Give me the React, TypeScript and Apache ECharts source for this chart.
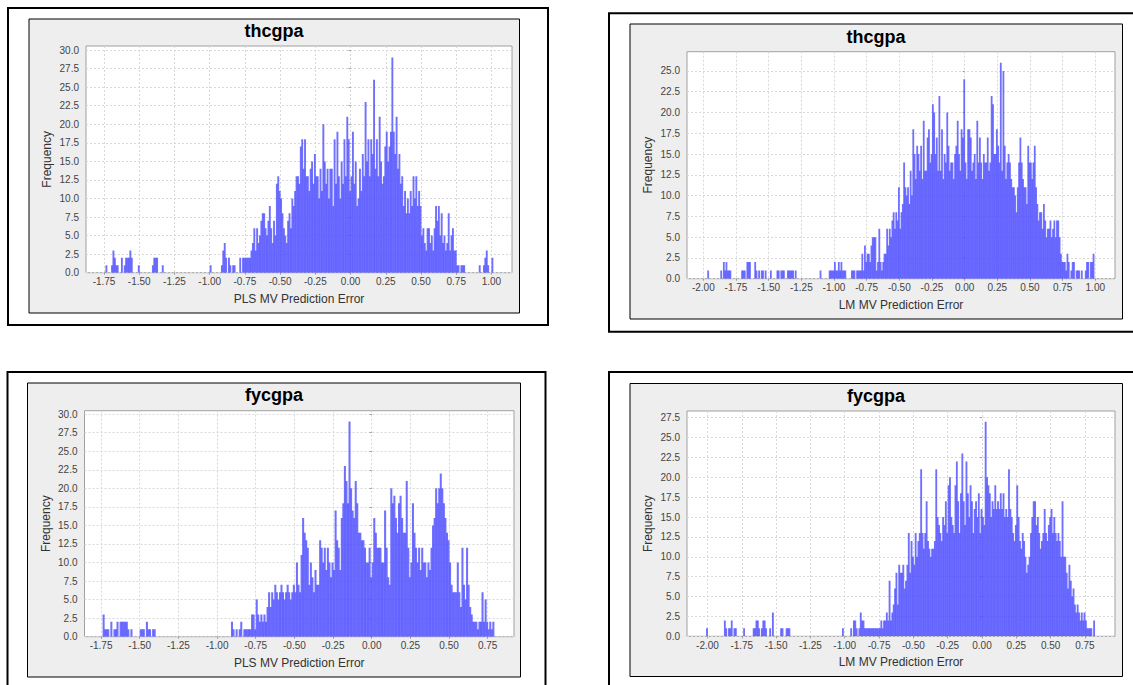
import React, { useEffect, useRef } from 'react';
import * as echarts from 'echarts';

const BIN = 0.01;
const FONT = '"Liberation Sans", Arial, Helvetica, sans-serif';
const BAR = 'rgba(80,80,255,0.82)';

// ---------- tick labels ----------
const xTicksThcPls = [-1.75, -1.5, -1.25, -1.0, -0.75, -0.5, -0.25, 0, 0.25, 0.5, 0.75, 1.0];
const xTicksThcLm = [-2.0, -1.75, -1.5, -1.25, -1.0, -0.75, -0.5, -0.25, 0, 0.25, 0.5, 0.75, 1.0];
const xTicksFycPls = [-1.75, -1.5, -1.25, -1.0, -0.75, -0.5, -0.25, 0, 0.25, 0.5, 0.75];
const xTicksFycLm = [-2.0, -1.75, -1.5, -1.25, -1.0, -0.75, -0.5, -0.25, 0, 0.25, 0.5, 0.75];
const yTicks30 = [0, 2.5, 5, 7.5, 10, 12.5, 15, 17.5, 20, 22.5, 25, 27.5, 30];
const yTicks25 = [0, 2.5, 5, 7.5, 10, 12.5, 15, 17.5, 20, 22.5, 25];
const yTicks275 = [0, 2.5, 5, 7.5, 10, 12.5, 15, 17.5, 20, 22.5, 25, 27.5];

// ---------- thcgpa, PLS ----------
const thcPlsOutliers = [
  [-1.74, 1], [-1.70, 1], [-1.69, 3], [-1.68, 2], [-1.67, 1], [-1.66, 1], [-1.63, 2], [-1.61, 1],
  [-1.60, 2], [-1.59, 2], [-1.58, 2], [-1.57, 3], [-1.56, 2], [-1.51, 1], [-1.41, 1], [-1.40, 2],
  [-1.39, 2], [-1.38, 2], [-1.34, 1], [-1.00, 1], [-0.92, 1], [-0.91, 3], [-0.90, 4], [-0.89, 2],
  [-0.87, 2], [-0.86, 1], [-0.84, 1], [-0.83, 1], [0.91, 1], [0.94, 1], [0.95, 2], [0.96, 3],
  [0.97, 1], [1.00, 2],
];
const thcPlsStart = -0.79;
const thcPlsCounts = [
  2, 0, 2, 2, 2, 2, 2, 2, 3, 4, 6, 3, 6, 4, 5, 7, 8, 8, 6, 5,
  7, 9, 6, 4, 7, 5, 12, 13, 11, 10, 8, 6, 5, 4, 7, 8, 6, 10, 9, 11,
  13, 13, 12, 17, 18, 14, 18, 13, 13, 11, 14, 15, 12, 16, 13, 13, 10, 14, 11, 20,
  15, 12, 14, 10, 14, 14, 9, 18, 12, 19, 13, 10, 15, 12, 18, 13, 21, 18, 11, 13,
  19, 12, 15, 9, 10, 14, 11, 16, 13, 23, 15, 18, 13, 18, 16, 26, 14, 18, 13, 21,
  15, 12, 13, 17, 19, 15, 17, 19, 29, 19, 16, 21, 14, 16, 12, 13, 9, 11, 8, 10,
  8, 11, 9, 13, 10, 13, 9, 11, 9, 5, 6, 4, 3, 6, 6, 4, 5, 3, 6, 9,
  7, 9, 5, 8, 4, 5, 3, 4, 8, 3, 5, 6, 3, 3, 1, 1, 0, 1, 1, 1,
];

// ---------- thcgpa, LM ----------
const thcLmOutliers = [
  [-1.97, 1], [-1.87, 1], [-1.85, 2], [-1.84, 1], [-1.83, 2], [-1.82, 1], [-1.81, 1], [-1.80, 1],
  [-1.71, 1], [-1.70, 1], [-1.69, 1], [-1.67, 2], [-1.66, 2], [-1.65, 2], [-1.61, 2], [-1.60, 1],
  [-1.58, 1], [-1.56, 1], [-1.55, 1], [-1.53, 1], [-1.49, 1], [-1.44, 1], [-1.43, 1], [-1.41, 1],
  [-1.40, 1], [-1.39, 1], [-1.36, 1], [-1.35, 1], [-1.34, 1], [-1.33, 1], [-1.32, 1], [-1.30, 1],
  [-1.11, 1], [-1.04, 1], [-1.03, 1], [-1.02, 1], [-1.01, 1], [-1.00, 2], [-0.99, 1], [-0.98, 1],
  [-0.97, 2], [-0.96, 1], [-0.95, 2], [-0.94, 1], [-0.93, 1], [-0.92, 1], [-0.87, 1], [-0.86, 1],
  [-0.85, 1], [-0.83, 1], [-0.82, 1], [-0.81, 1],
];
const thcLmStart = -0.80;
const thcLmCounts = [
  1, 3, 1, 4, 2, 3, 3, 2, 4, 5, 5, 5, 1, 2, 6, 2, 1, 2, 3,
  3, 6, 4, 6, 5, 7, 8, 6, 8, 7, 11, 6, 8, 9, 14, 11, 10, 11, 9, 13,
  10, 18, 15, 12, 16, 15, 13, 16, 12, 19, 13, 13, 17, 18, 14, 15, 21, 20, 15, 17,
  13, 22, 13, 18, 12, 15, 14, 20, 16, 13, 14, 14, 12, 15, 16, 19, 15, 13, 18, 17,
  24, 14, 12, 18, 18, 17, 13, 14, 15, 12, 19, 14, 17, 14, 12, 15, 14, 14, 17, 13,
  14, 22, 21, 15, 15, 18, 16, 14, 26, 13, 25, 16, 12, 14, 15, 14, 12, 11, 11, 10,
  8, 11, 14, 17, 14, 12, 11, 11, 9, 16, 14, 14, 12, 14, 16, 11, 9, 7, 8, 8,
  6, 9, 7, 5, 6, 6, 7, 5, 6, 7, 5, 7, 7, 5, 3, 2, 2, 2, 1, 3,
  2, 0, 1, 2, 2, 0, 1, 1, 1, 0, 1, 0, 0, 1, 2, 2, 0, 2, 2, 3,
];

// ---------- fycgpa, PLS ----------
const fycPlsOutliers = [
  [-1.74, 3], [-1.73, 1], [-1.72, 1], [-1.71, 1], [-1.69, 2], [-1.67, 1], [-1.66, 1], [-1.65, 2],
  [-1.63, 2], [-1.62, 2], [-1.61, 2], [-1.60, 2], [-1.59, 2], [-1.58, 1], [-1.56, 1], [-1.50, 1],
  [-1.49, 1], [-1.48, 1], [-1.46, 2], [-1.45, 1], [-1.44, 1], [-1.42, 1], [-1.41, 1],
];
const fycPlsStart = -0.91;
const fycPlsCounts = [
  2, 1, 0, 1, 0, 1, 2, 0, 1, 1, 1, 1, 1, 3, 3, 1, 5, 3, 2, 3,
  2, 3, 2, 4, 6, 4, 6, 5, 7, 6, 5, 6, 7, 6, 5, 6, 7, 6, 5, 6,
  7, 6, 10, 7, 6, 11, 16, 14, 13, 12, 7, 10, 8, 6, 9, 7, 7, 13, 12, 10,
  12, 9, 12, 10, 8, 10, 9, 17, 13, 12, 9, 16, 18, 23, 21, 18, 29, 20, 17, 16,
  21, 18, 14, 14, 13, 13, 12, 10, 10, 12, 8, 10, 16, 14, 12, 12, 12, 10, 10, 17,
  12, 8, 7, 20, 18, 19, 16, 14, 18, 19, 16, 14, 14, 21, 12, 8, 10, 18, 14, 12,
  10, 12, 9, 12, 10, 10, 8, 10, 9, 12, 15, 16, 20, 18, 20, 22, 20, 18, 16, 14,
  13, 10, 7, 6, 6, 6, 10, 6, 4, 12, 7, 5, 12, 7, 4, 3, 2, 2, 2, 1,
  2, 2, 6, 2, 5, 2, 1, 2, 1, 2,
];

// ---------- fycgpa, LM ----------
const fycLmOutliers = [
  [-2.01, 1], [-1.88, 2], [-1.87, 1], [-1.85, 1], [-1.84, 1], [-1.83, 2], [-1.81, 1], [-1.80, 1],
  [-1.74, 1], [-1.67, 1], [-1.66, 1], [-1.65, 2], [-1.64, 2], [-1.63, 1], [-1.61, 1], [-1.60, 2],
  [-1.59, 2], [-1.58, 1], [-1.55, 1], [-1.53, 3], [-1.47, 1], [-1.46, 1], [-1.43, 1], [-1.42, 1],
  [-1.41, 1], [-1.02, 1], [-0.96, 1], [-0.94, 2], [-0.93, 2], [-0.92, 1], [-0.90, 1],
];
const fycLmStart = -0.89;
const fycLmCounts = [
  3, 2, 2, 1, 1, 1, 1, 1, 1, 1, 1, 1, 1, 1, 1, 2, 1, 2, 2, 3,
  2, 7, 2, 3, 4, 6, 8, 4, 9, 8, 8, 9, 6, 7, 9, 13, 8, 12, 10, 9,
  13, 10, 12, 13, 21, 13, 11, 13, 17, 12, 11, 10, 11, 11, 12, 21, 15, 14, 13, 12,
  15, 14, 17, 13, 19, 20, 15, 14, 13, 19, 22, 17, 13, 18, 23, 17, 14, 22, 18, 15,
  19, 17, 13, 16, 17, 15, 18, 13, 16, 15, 14, 27, 20, 19, 18, 15, 17, 16, 19, 16,
  17, 16, 18, 16, 18, 15, 16, 15, 21, 16, 15, 13, 12, 14, 19, 15, 12, 11, 13, 12,
  10, 8, 9, 10, 13, 15, 17, 17, 14, 15, 13, 11, 12, 13, 16, 13, 12, 14, 15, 16,
  13, 15, 13, 12, 13, 12, 10, 17, 10, 10, 8, 6, 9, 7, 5, 6, 4, 3, 4, 3,
  2, 3, 2, 3, 2, 1, 1, 1, 1, 0, 2,
];

function toBars(start: number, counts: number[], extra: number[][]) {
  const bars: number[][] = [];
  extra.forEach(([x, c]) => bars.push([x, +(x + BIN).toFixed(2), c]));
  counts.forEach((c, i) => {
    if (c > 0) {
      const x = +(start + i * BIN).toFixed(2);
      bars.push([x, +(x + BIN).toFixed(2), c]);
    }
  });
  return bars;
}

const panels = [
  {
    title: 'thcgpa', xName: 'PLS MV Prediction Error',
    grid: { left: 86, top: 46, width: 426, height: 226.7 },
    xMin: -1.878, xMax: 1.146, yMax: 30.55, xTicks: xTicksThcPls, yTicks: yTicks30,
    bars: toBars(thcPlsStart, thcPlsCounts, thcPlsOutliers),
    outer: { x: 8, y: 8, width: 540, height: 317 },
    inner: { x: 29, y: 19, width: 490.5, height: 294 },
    titlePos: [274, 31],
  },
  {
    title: 'thcgpa', xName: 'LM MV Prediction Error',
    grid: { left: 687, top: 51.7, width: 428, height: 227 },
    xMin: -2.125, xMax: 1.151, yMax: 27.32, xTicks: xTicksThcLm, yTicks: yTicks25,
    bars: toBars(thcLmStart, thcLmCounts, thcLmOutliers),
    outer: { x: 609, y: 13.3, width: 540, height: 318.4 },
    inner: { x: 630, y: 24, width: 492.5, height: 295 },
    titlePos: [876, 36.7],
  },
  {
    title: 'fycgpa', xName: 'PLS MV Prediction Error',
    grid: { left: 84.5, top: 410.7, width: 429.5, height: 226 },
    xMin: -1.857, xMax: 0.92, yMax: 30.46, xTicks: xTicksFycPls, yTicks: yTicks30,
    bars: toBars(fycPlsStart, fycPlsCounts, fycPlsOutliers),
    outer: { x: 7.5, y: 372, width: 538, height: 330 },
    inner: { x: 27.5, y: 383, width: 493, height: 294 },
    titlePos: [274, 395.3],
  },
  {
    title: 'fycgpa', xName: 'LM MV Prediction Error',
    grid: { left: 687, top: 411, width: 428, height: 225.3 },
    xMin: -2.149, xMax: 0.969, yMax: 28.34, xTicks: xTicksFycLm, yTicks: yTicks275,
    bars: toBars(fycLmStart, fycLmCounts, fycLmOutliers),
    outer: { x: 609, y: 372, width: 540, height: 330 },
    inner: { x: 630, y: 383.5, width: 492.5, height: 293 },
    titlePos: [876, 395.8],
  },
];

export default function App() {
  const ref = useRef<HTMLDivElement>(null);
  useEffect(() => {
    if (!ref.current) return;
    const chart = echarts.init(ref.current, undefined, { renderer: 'svg' });
    const graphics: any[] = [];
    panels.forEach((p) => {
      graphics.push({
        type: 'rect', z: -20, silent: true,
        shape: { ...p.outer },
        style: { fill: '#ffffff', stroke: '#000000', lineWidth: 2 },
      });
      graphics.push({
        type: 'rect', z: -10, silent: true,
        shape: { ...p.inner },
        style: { fill: '#eeeeee', stroke: '#000000', lineWidth: 1 },
      });
      graphics.push({
        type: 'text', z: 10, silent: true,
        x: p.titlePos[0], y: p.titlePos[1],
        style: {
          text: p.title, fill: '#000000', fontFamily: FONT, fontSize: 18, fontWeight: 'bold',
          align: 'center', verticalAlign: 'middle',
        },
      });
    });

    const option: any = {
      animation: false,
      graphic: { elements: graphics },
      grid: panels.map((p) => ({
        ...p.grid, show: true, backgroundColor: '#ffffff', borderColor: '#a0a0a0', borderWidth: 1,
        containLabel: false,
      })),
      xAxis: panels.map((p, i) => ({
        type: 'value', gridIndex: i, min: p.xMin, max: p.xMax,
        name: p.xName, nameLocation: 'middle', nameGap: 20,
        nameTextStyle: { fontFamily: FONT, fontSize: 12, color: '#333333' },
        axisLine: { show: false },
        axisTick: { show: true, length: 2, lineStyle: { color: '#999999' }, customValues: p.xTicks },
        axisLabel: {
          customValues: p.xTicks, margin: 4, fontFamily: FONT, fontSize: 10, color: '#444444',
          formatter: (v: number) => v.toFixed(2),
        },
        splitLine: { show: true, lineStyle: { color: '#d8d8d8', type: [2, 2], width: 1 } },
      })),
      yAxis: panels.map((p, i) => ({
        type: 'value', gridIndex: i, min: 0, max: p.yMax, interval: 2.5,
        name: 'Frequency', nameLocation: 'middle', nameGap: 33,
        nameTextStyle: { fontFamily: FONT, fontSize: 12, color: '#333333' },
        axisLine: { show: false },
        axisTick: { show: true, length: 2, lineStyle: { color: '#999999' }, customValues: p.yTicks },
        axisLabel: {
          customValues: p.yTicks, margin: 7, fontFamily: FONT, fontSize: 10, color: '#444444',
          formatter: (v: number) => v.toFixed(1),
        },
        splitLine: { show: true, lineStyle: { color: '#d8d8d8', type: [2, 2], width: 1 } },
      })),
      series: panels.map((p, i) => ({
        type: 'custom', xAxisIndex: i, yAxisIndex: i, data: p.bars,
        encode: { x: [0, 1], y: 2 }, clip: true, silent: true,
        renderItem: (_params: any, api: any) => {
          const p0 = api.coord([api.value(0), api.value(2)]);
          const p1 = api.coord([api.value(1), 0]);
          return {
            type: 'rect',
            shape: { x: p0[0], y: p0[1], width: p1[0] - p0[0] + 0.5, height: p1[1] - p0[1] },
            style: { fill: BAR },
          };
        },
      })),
    };
    chart.setOption(option);
    return () => chart.dispose();
  }, []);
  return (
    <div
      ref={ref}
      style={{ position: 'fixed', left: 0, top: 0, width: 1133, height: 685, background: '#ffffff' }}
    />
  );
}
